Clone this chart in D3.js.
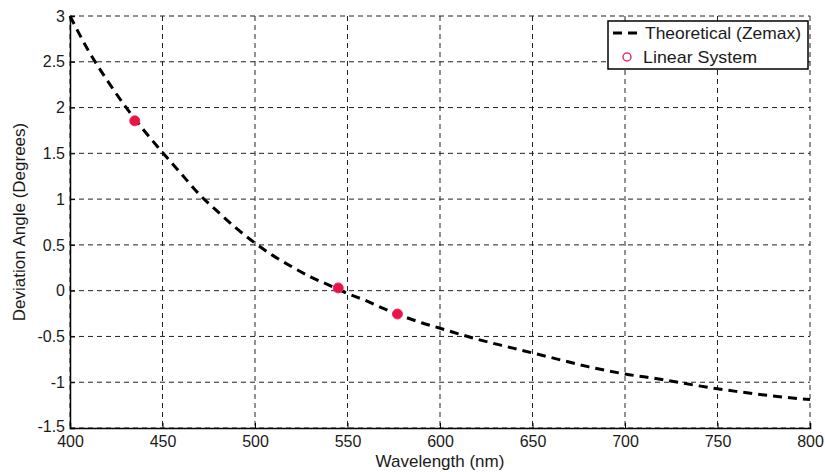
<!DOCTYPE html>
<html><head><meta charset="utf-8">
<script src="https://cdn.jsdelivr.net/npm/d3@7"></script>
<style>body{margin:0;background:#fff}svg{display:block}text{font-family:"Liberation Sans",Arial,sans-serif;fill:#1a1a1a}</style>
</head><body><svg id="c" width="825" height="472"></svg>
<script>
const curveWavelength = [400,410,420,430,440,450,460,470,480,490,500,510,520,530,540,550,560,570,580,590,600,620,640,660,680,700,720,740,760,780,800];
const curveDeviation  = [3.00,2.62,2.30,2.01,1.75,1.51,1.28,1.05,0.86,0.68,0.52,0.38,0.26,0.15,0.06,-0.03,-0.11,-0.20,-0.28,-0.35,-0.41,-0.53,-0.63,-0.73,-0.83,-0.91,-0.97,-1.04,-1.10,-1.15,-1.19];
const measWavelength = [435,545,577];
const measDeviation  = [1.855,0.03,-0.255];
const xTicks = [400,450,500,550,600,650,700,750,800];
const yTicks = [-1.5,-1,-0.5,0,0.5,1,1.5,2,2.5,3];
const legendLabels = ["Theoretical (Zemax)","Linear System"];

const svg = d3.select("#c");
const L=70,R=810,T=16,B=428;
const x = d3.scaleLinear().domain([400,800]).range([L,R]);
const y = d3.scaleLinear().domain([-1.5,3]).range([B,T]);

// grid
const g = svg.append("g");
g.selectAll(".vg").data(xTicks).enter().append("line")
 .attr("x1",d=>x(d)).attr("x2",d=>x(d)).attr("y1",T).attr("y2",B)
 .attr("stroke","#222").attr("stroke-width",1).attr("stroke-dasharray","5,4");
g.selectAll(".hg").data(yTicks).enter().append("line")
 .attr("y1",d=>y(d)).attr("y2",d=>y(d)).attr("x1",L).attr("x2",R)
 .attr("stroke","#222").attr("stroke-width",1).attr("stroke-dasharray","5,4");

// axes
const xa = svg.append("g").attr("transform",`translate(0,${B})`)
 .call(d3.axisBottom(x).tickValues(xTicks).tickSize(-5).tickPadding(9).tickFormat(d3.format("d")));
const ya = svg.append("g").attr("transform",`translate(${L},0)`)
 .call(d3.axisLeft(y).tickValues(yTicks).tickSize(-5).tickPadding(5).tickFormat(d=>String(d)));
[xa,ya].forEach(a=>{
  a.select(".domain").attr("stroke","#000").attr("stroke-width",1.5);
  a.selectAll(".tick line").attr("stroke","#000");
  a.selectAll("text").style("font-size","16px").style("font-family","'Liberation Sans',Arial,sans-serif").attr("fill","#1a1a1a");
});
xa.selectAll(".tick text").attr("dy","0.6em");
ya.selectAll(".tick text").filter(d=>d===-1.5).attr("dy","0.2em");

// curve
const line = d3.line().x((d,i)=>x(curveWavelength[i])).y(d=>y(d)).curve(d3.curveMonotoneX);
svg.append("path").datum(curveDeviation).attr("d",line)
 .attr("fill","none").attr("stroke","#000").attr("stroke-width",3).attr("stroke-dasharray","9,6");

// points
svg.selectAll(".pt").data(measDeviation).enter().append("circle")
 .attr("cx",(d,i)=>x(measWavelength[i])).attr("cy",d=>y(d)).attr("r",5)
 .attr("fill","#ee1144").attr("stroke","#e0306a").attr("stroke-width",1);

// labels
svg.append("text").attr("x",440).attr("y",467).attr("text-anchor","middle")
 .style("font-size","17px").text("Wavelength (nm)");
svg.append("text").attr("transform",`translate(25,${(T+B)/2}) rotate(-90)`).attr("text-anchor","middle")
 .style("font-size","17px").text("Deviation Angle (Degrees)");

// legend
const lg = svg.append("g");
lg.append("rect").attr("x",608).attr("y",21).attr("width",200).attr("height",48)
 .attr("fill","#fff").attr("stroke","#000").attr("stroke-width",1.5);
lg.append("line").attr("x1",613).attr("x2",638).attr("y1",33).attr("y2",33)
 .attr("stroke","#000").attr("stroke-width",3).attr("stroke-dasharray","9,6");
lg.append("circle").attr("cx",627).attr("cy",57).attr("r",4)
 .attr("fill","none").attr("stroke","#e8306a").attr("stroke-width",1.5);
lg.selectAll(".lt").data(legendLabels).enter().append("text")
 .attr("x",(d,i)=>i===0?645:643).attr("y",(d,i)=>39+i*24)
 .attr("textLength",(d,i)=>i===0?156:114).attr("lengthAdjust","spacingAndGlyphs")
 .style("font-size","17px").text(d=>d);
</script></body></html>
